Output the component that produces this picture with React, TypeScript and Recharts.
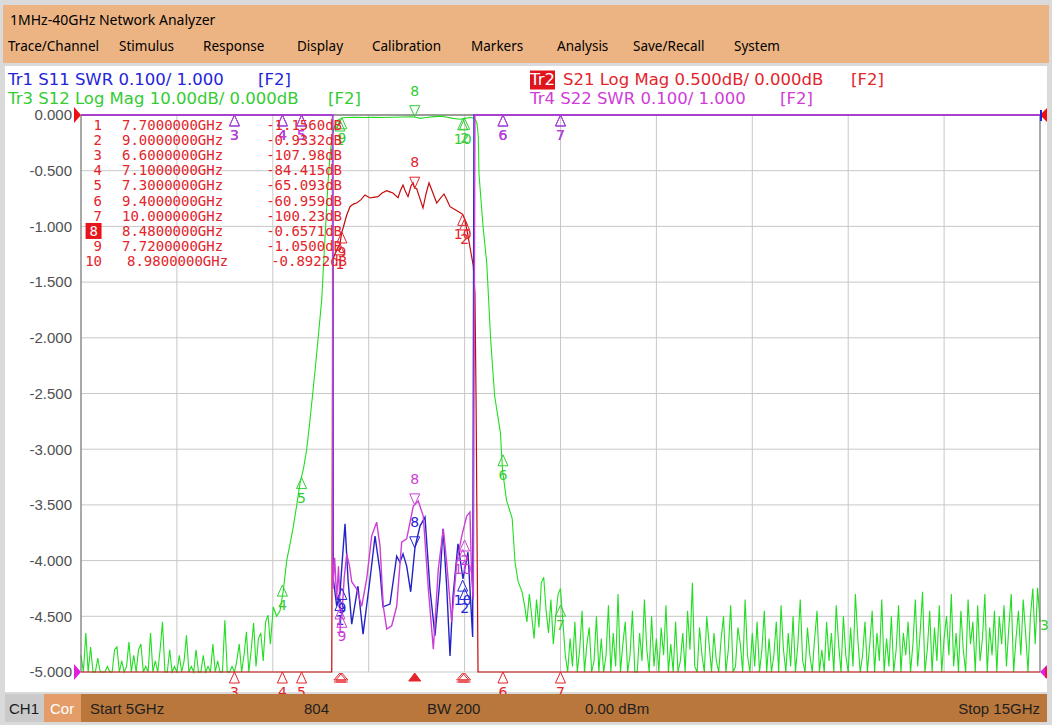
import React from "react";
import { LineChart, Line, XAxis, YAxis, CartesianGrid, ReferenceDot } from "recharts";

// ---- sweep 5 GHz .. 15 GHz ----

// Tr2 S21 Log Mag, dB (0.5 dB/div, ref 0.000 dB at top)
const s21Freq = [
  5, 6.6, 7.1, 7.3, 7.5, 7.6, 7.615, 7.625, 7.66, 7.7,
  7.72, 7.735, 7.77, 7.805, 7.84, 7.875, 7.92, 7.961, 8.014, 8.05,
  8.097, 8.14, 8.188, 8.22, 8.253, 8.306, 8.33, 8.358, 8.385, 8.41,
  8.44, 8.462, 8.48, 8.5, 8.53, 8.566, 8.6, 8.629, 8.67, 8.709,
  8.745, 8.785, 8.815, 8.848, 8.88, 8.92, 8.95, 8.98, 9.0, 9.035,
  9.069, 9.09, 9.108, 9.12, 9.14, 9.2, 9.4, 10.0, 15,
];
const s21Db = [
  -98, -107.98, -84.415, -65.093, -35, -12, -6, -1.3, -1.22, -1.156,
  -1.05, -1.01, -0.9, -0.823, -0.8, -0.79, -0.76, -0.718, -0.745, -0.74,
  -0.733, -0.7, -0.68, -0.69, -0.7, -0.742, -0.68, -0.628, -0.69, -0.733,
  -0.64, -0.608, -0.657, -0.66, -0.74, -0.835, -0.7, -0.61, -0.7, -0.79,
  -0.75, -0.709, -0.76, -0.823, -0.84, -0.86, -0.875, -0.892, -0.933, -1.08,
  -1.25, -1.35, -1.6, -2.6, -8, -25, -60.959, -100.23, -98,
];

// Tr3 S12 Log Mag, dB (10 dB/div, ref 0.000 dB at top)
const sweepStep = 0.025;
const s12LowStart = 5.0;
const s12LowDb = [
  -97, -102, -93, -101, -95.5, -104, -100, -97.5, -103, -106,
  -101, -99, -104, -100, -96, -95.5, -103, -98, -105, -99,
  -94.6, -102, -97, -101, -96, -95, -104, -99, -101, -93,
  -103, -98, -104, -96, -91, -102, -100, -96, -105, -99,
  -102, -97, -104, -98, -93.4, -103, -99, -101, -96, -104,
  -100, -97, -105, -99, -102, -95, -101, -98, -106, -102,
  -90.7, -101, -104, -99, -103, -98, -95, -101, -97, -92.8,
  -100, -96, -91.2, -99, -94, -93, -98, -91, -89.8, -95,
];
const s12EdgeFreq = [
  7.005, 7.04, 7.075, 7.11, 7.145, 7.18, 7.214, 7.25, 7.284, 7.32,
  7.353, 7.38, 7.409, 7.44, 7.471, 7.51, 7.535, 7.562, 7.58, 7.596,
  7.615, 7.631, 7.66, 7.683, 7.73, 7.77, 7.85, 7.95, 8.05, 8.15,
  8.25, 8.35, 8.448, 8.5, 8.535, 8.6, 8.68, 8.75, 8.82, 8.879,
  8.95, 9.0, 9.056, 9.09, 9.115, 9.13, 9.143, 9.15, 9.192, 9.231,
  9.272, 9.313, 9.374, 9.395, 9.436, 9.496, 9.526, 9.557, 9.599,
];
const s12EdgeDb = [
  -88.3, -90, -89, -85.3, -80, -77, -73.9, -70, -66.1, -63.5,
  -60.1, -56, -51.2, -46, -40.4, -33.2, -25, -16.5, -11, -7.5,
  -4.5, -2.7, -1.4, -0.9, -0.5, -0.45, -0.4, -0.45, -0.4, -0.45,
  -0.4, -0.35, -0.32, -0.45, -0.6, -0.45, -0.3, -0.2, -0.4, -0.6,
  -0.75, -0.6, -0.45, -0.55, -0.9, -1.6, -3.9, -10.6, -19.9, -26.6,
  -40.4, -50.4, -57.1, -63.7, -69.1, -72.4, -80.3, -83.7, -85.6,
];
const s12HighStart = 9.625;
const s12HighDb = [
  -88, -91, -86, -90, -94, -87, -92, -84, -83, -89, -93, -87, -95, -90, -86, -85, -91, -97, -102, -94,
  -99, -91, -104, -96, -89, -101, -95, -92, -103, -98, -90, -100, -94, -106, -97, -88, -102, -93, -99, -86,
  -101, -95, -91, -103, -97, -89, -100, -105, -93, -98, -87, -96, -102, -90, -99, -94, -104, -92, -97, -88,
  -103, -95, -100, -91, -106, -98, -93, -101, -89, -96, -84, -99, -104, -92, -97, -102, -90, -95, -100, -93,
  -98, -105, -94, -90, -101, -96, -88, -103, -99, -92, -95, -100, -87, -97, -104, -93, -99, -91, -102, -96,
  -89, -100, -94, -105, -97, -91, -102, -88, -96, -101, -93, -99, -90, -104, -95, -87, -98, -103, -92, -97,
  -100, -94, -89, -102, -96, -106, -91, -98, -93, -100, -88, -95, -103, -90, -97, -101, -92, -99, -86, -94,
  -104, -97, -91, -100, -95, -89, -102, -93, -98, -87, -101, -94, -99, -90, -105, -96, -88, -100, -93, -97,
  -91, -102, -95, -87, -99, -93, -85.6, -100, -96, -89, -103, -92, -98, -88, -101, -94, -90, -97, -86, -99,
  -93, -104, -89, -96, -100, -87, -95, -91, -102, -88, -98, -94, -86, -100, -92, -97, -89, -103, -90, -95,
  -88, -99, -92, -86, -101, -94, -89, -97, -87, -93, -100, -90, -85, -95, -84.9, -91,
];

// Tr1 S11 SWR (0.100/div, ref 1.000 at bottom)
const s11Freq = [
  5, 7.625, 7.631, 7.666, 7.7, 7.72, 7.753, 7.784, 7.823, 7.888,
  7.941, 8.014, 8.066, 8.118, 8.149, 8.222, 8.292, 8.326, 8.358, 8.396,
  8.438, 8.483, 8.535, 8.587, 8.639, 8.691, 8.743, 8.775, 8.813, 8.848,
  8.879, 8.931, 8.983, 9.035, 9.084, 9.098, 15,
];
const s11Swr = [
  4, 3, 1.167, 1.119, 1.14, 1.19, 1.266, 1.167, 1.086, 1.154,
  1.068, 1.167, 1.244, 1.18, 1.117, 1.122, 1.208, 1.197, 1.212, 1.19,
  1.144, 1.224, 1.262, 1.278, 1.149, 1.065, 1.167, 1.257, 1.154, 1.029,
  1.136, 1.23, 1.167, 1.215, 1.063, 3, 4,
];

// Tr4 S22 SWR (0.100/div, ref 1.000 at bottom)
const s22Freq = [
  5, 7.622, 7.626, 7.645, 7.666, 7.685, 7.7, 7.72, 7.745, 7.771,
  7.8, 7.823, 7.875, 7.927, 7.979, 8.031, 8.083, 8.118, 8.152, 8.188,
  8.24, 8.292, 8.344, 8.396, 8.465, 8.517, 8.569, 8.622, 8.674, 8.726,
  8.778, 8.813, 8.865, 8.918, 8.97, 9.022, 9.056, 9.074, 9.091, 9.108, 15,
];
const s22Swr = [
  4, 3, 1.149, 1.205, 1.13, 1.19, 1.12, 1.1, 1.17, 1.212,
  1.19, 1.162, 1.149, 1.118, 1.167, 1.244, 1.269, 1.226, 1.118, 1.077,
  1.083, 1.118, 1.233, 1.239, 1.298, 1.307, 1.28, 1.149, 1.041, 1.185,
  1.257, 1.197, 1.09, 1.197, 1.244, 1.28, 1.287, 1.167, 1.131, 3, 4,
];

// marker table (readout of the active trace, Tr2 S21)
const markerNo = [1, 2, 3, 4, 5, 6, 7, 8, 9, 10];
const markerFreq = [7.7, 9.0, 6.6, 7.1, 7.3, 9.4, 10.0, 8.48, 7.72, 8.98];
const markerS21 = [-1.156, -0.9332, -107.98, -84.415, -65.093, -60.959, -100.23, -0.6571, -1.05, -0.8922];
const activeMarker = 8;
// same markers on the other traces (null = not shown)
const markerS12 = [-0.9, -0.6, null, -84.4, -65.1, -61.0, -88.0, -0.3, -0.5, -0.7];
const markerS11 = [1.13, 1.15, 20, 20, 20, 20, 20, 1.223, 1.15, 1.165];
const markerS22 = [1.115, 1.237, 20, 20, 20, 20, 20, 1.3, 1.1, 1.22];

const yTicks = [0, -0.5, -1, -1.5, -2, -2.5, -3, -3.5, -4, -4.5, -5];
const xTicks = [5, 6, 7, 8, 9, 10, 11, 12, 13, 14, 15];

const menuItems = ["Trace/Channel", "Stimulus", "Response", "Display", "Calibration", "Markers", "Analysis", "Save/Recall", "System"];
const menuX = [8, 119, 203, 297, 372, 471, 557, 633, 734];

// ---- screen scale: 10 divisions, shown in Tr2 units ----
const clamp = (v: number) => Math.max(-5, Math.min(0, v));
const fromDb05 = (db: number) => clamp(db);
const fromDb10 = (db: number) => clamp(db / 20);
const fromSwr = (s: number) => clamp((s - 1) * 5 - 5);

const rows = (fs: number[], vs: number[], conv: (v: number) => number) =>
  fs.map((f, i) => ({ f, v: conv(vs[i]) }));

const s21Rows = rows(s21Freq, s21Db, fromDb05);
const s12Rows = [
  ...s12LowDb.map((d, i) => ({ f: s12LowStart + i * sweepStep, v: fromDb10(d) })),
  ...rows(s12EdgeFreq, s12EdgeDb, fromDb10),
  ...s12HighDb.map((d, i) => ({ f: s12HighStart + i * sweepStep, v: fromDb10(d) })),
];
const s11Rows = rows(s11Freq, s11Swr, fromSwr);
const s22Rows = rows(s22Freq, s22Swr, fromSwr);
const frameTop = [{ f: 5, v: 0 }, { f: 15, v: 0 }];

const fmtFreq = (f: number) => f.toPrecision(8) + "GHz";
const fmtVal = (v: number) => (Math.abs(v) >= 1 ? v.toPrecision(5) : v.toFixed(4)) + "dB";

const UI = "'Noto Sans', 'Open Sans', sans-serif";
const HDR = "'DejaVu Sans', Verdana, sans-serif";
const MONO = "'DejaVu Sans Mono', monospace";
const ARIAL = "'Liberation Sans', Arial, sans-serif";

const C1 = "#2424d8";
const C2 = "#e3242b";
const C3 = "#33cc33";
const C4 = "#cf3cd8";

function Txt(props: any) {
  const { x, y, size, color = "#000", family = UI, anchor = "start", children, style } = props;
  const tx = anchor === "end" ? "-100%" : anchor === "middle" ? "-50%" : "0";
  return (
    <div
      style={{
        position: "absolute",
        left: x,
        top: y,
        transform: `translate(${tx}, -50%)`,
        fontSize: size,
        color,
        fontFamily: family,
        lineHeight: 1.15,
        whiteSpace: "pre",
        ...style,
      }}
    >
      {children}
    </div>
  );
}

// marker glyph: open triangle under the point, or inverted above it for the active one
const markShape = (color: string, label: string, active: boolean) => (p: any) => {
  const cx = p.cx ?? 0;
  const cy = p.cy ?? 0;
  if (active) {
    return (
      <g>
        <polygon points={`${cx},${cy} ${cx - 5},${cy - 11} ${cx + 5},${cy - 11}`} fill="none" stroke={color} strokeWidth={1} />
        <text x={cx} y={cy - 21} textAnchor="middle" fontSize={14} fontFamily={HDR} fill={color}>{label}</text>
      </g>
    );
  }
  return (
    <g>
      <polygon points={`${cx},${cy} ${cx - 5},${cy + 11} ${cx + 5},${cy + 11}`} fill="none" stroke={color} strokeWidth={1} />
      <text x={cx} y={cy + 25} textAnchor="middle" fontSize={14} fontFamily={HDR} fill={color}>{label}</text>
    </g>
  );
};

// stimulus position under the x axis for in-band markers of the active trace
const stimShape = (filled: boolean) => (p: any) => {
  const cx = p.cx ?? 0;
  const cy = p.cy ?? 0;
  if (filled) {
    return <polygon points={`${cx},${cy + 1} ${cx - 6},${cy + 9} ${cx + 6},${cy + 9}`} fill={C2} stroke={C2} />;
  }
  return (
    <g fill="none" stroke={C2} strokeWidth={1}>
      <polygon points={`${cx},${cy + 1} ${cx - 6},${cy + 8} ${cx + 6},${cy + 8}`} />
      <line x1={cx - 6} y1={cy + 10} x2={cx + 6} y2={cy + 10} />
    </g>
  );
};

const xTick = (p: any) => {
  const v = p.payload?.value;
  if (v !== 5 && v !== 15) return <g />;
  return (
    <text x={v === 5 ? p.x + 1 : p.x} y={p.y + 11} textAnchor={v === 5 ? "start" : "end"} fontSize={15} fontFamily={ARIAL} fill="#505050">
      {v}GHz
    </text>
  );
};

export default function App() {
  return (
    <div style={{ position: "relative", width: 1052, height: 725, background: "#dadada", overflow: "hidden" }}>
      <style>{"body{margin:0}"}</style>

      {/* title and menu bar */}
      <div style={{ position: "absolute", left: 3, top: 5, width: 1046, height: 58, background: "#ecb483" }} />
      <Txt x={10} y={20} size={14}>1MHz-40GHz Network Analyzer</Txt>
      {menuItems.map((m, i) => (
        <Txt key={m} x={menuX[i]} y={47} size={13.5}>{m}</Txt>
      ))}

      {/* display panel */}
      <div style={{ position: "absolute", left: 5, top: 66, width: 1042, height: 626, background: "#ffffff" }} />

      {/* trace headers */}
      <Txt x={8} y={80} size={16.5} family={HDR} color={C1}>Tr1 S11 SWR 0.100/ 1.000</Txt>
      <Txt x={258} y={80} size={16.5} family={HDR} color={C1}>[F2]</Txt>
      <Txt x={8} y={99} size={16.5} family={HDR} color={C3}>Tr3 S12 Log Mag 10.00dB/ 0.000dB</Txt>
      <Txt x={328} y={99} size={16.5} family={HDR} color={C3}>[F2]</Txt>
      <Txt x={530} y={80} size={16.5} family={HDR} color="#ffffff" style={{ background: "#e0141c" }}>Tr2</Txt>
      <Txt x={563} y={80} size={16.5} family={HDR} color={C2}>S21 Log Mag 0.500dB/ 0.000dB</Txt>
      <Txt x={851} y={80} size={16.5} family={HDR} color={C2}>[F2]</Txt>
      <Txt x={530} y={99} size={16.5} family={HDR} color={C4}>Tr4 S22 SWR 0.100/ 1.000</Txt>
      <Txt x={780} y={99} size={16.5} family={HDR} color={C4}>[F2]</Txt>

      <div style={{ position: "absolute", left: 0, top: 0 }}>
        <LineChart width={1052} height={725} margin={{ top: 115, right: 0, bottom: 53, left: 0 }}>
          <CartesianGrid stroke="#c8c8c8" />
          <XAxis
            dataKey="f"
            type="number"
            domain={[5, 15]}
            ticks={xTicks}
            interval={0}
            height={0}
            axisLine={false}
            tickLine={false}
            tick={xTick}
          />
          <YAxis
            type="number"
            domain={[-5, 0]}
            ticks={yTicks}
            interval={0}
            width={81}
            tickSize={0}
            tickMargin={9}
            tickLine={false}
            axisLine={{ stroke: "#6e6e6e" }}
            tickFormatter={(v: number) => v.toFixed(3)}
            tick={{ fill: "#505050", fontSize: 15, fontFamily: ARIAL }}
          />
          <YAxis
            yAxisId="r"
            orientation="right"
            type="number"
            domain={[-5, 0]}
            width={12}
            tick={false}
            tickLine={false}
            axisLine={{ stroke: "#6e6e6e" }}
          />
          <Line data={frameTop} dataKey="v" stroke="#555555" strokeWidth={1} dot={false} isAnimationActive={false} />
          <Line data={s12Rows} dataKey="v" type="linear" stroke="#22dd22" strokeWidth={1.1} dot={false} isAnimationActive={false} />
          <Line data={s21Rows} dataKey="v" type="linear" stroke="#c40a0a" strokeWidth={1.2} dot={false} isAnimationActive={false} />
          <Line data={s11Rows} dataKey="v" type="linear" stroke="#2323c4" strokeWidth={1.4} dot={false} isAnimationActive={false} />
          <Line data={s22Rows} dataKey="v" type="linear" stroke="#cc3fd6" strokeWidth={1.4} dot={false} isAnimationActive={false} />

          {markerNo.map((n, i) => (
            <ReferenceDot key={`b${n}`} x={markerFreq[i]} y={fromSwr(markerS11[i])} r={0} shape={markShape(C1, String(n), n === activeMarker)} />
          ))}
          {markerNo.map((n, i) => (
            <ReferenceDot key={`m${n}`} x={markerFreq[i]} y={fromSwr(markerS22[i])} r={0} shape={markShape(C4, String(n), n === activeMarker)} />
          ))}
          {markerNo.map((n, i) =>
            markerS12[i] === null ? null : (
              <ReferenceDot key={`g${n}`} x={markerFreq[i]} y={fromDb10(markerS12[i] as number)} r={0} shape={markShape(C3, String(n), n === activeMarker)} />
            )
          )}
          {markerNo.map((n, i) => (
            <ReferenceDot key={`r${n}`} x={markerFreq[i]} y={fromDb05(markerS21[i])} r={0} shape={markShape(C2, String(n), n === activeMarker)} />
          ))}
          {markerNo.map((n, i) =>
            markerS21[i] > -5 ? (
              <ReferenceDot key={`s${n}`} x={markerFreq[i]} y={-5} r={0} shape={stimShape(n === activeMarker)} />
            ) : null
          )}
        </LineChart>
      </div>

      {/* reference position pointers */}
      <svg width={1052} height={725} style={{ position: "absolute", left: 0, top: 0, pointerEvents: "none" }}>
        <polygon points="74,107 81,115 74,123" fill="#ee1010" />
        <polygon points="74,664 81,672 74,680" fill="#e020e0" />
        <polygon points="1047,108 1040,115 1047,122" fill="#ee1010" />
        <line x1={1041} y1={110} x2={1041} y2={121} stroke={C1} strokeWidth={2} />
        <polygon points="1047,665 1040,672 1047,679" fill="#e020e0" />
        <line x1={1046} y1={667} x2={1046} y2={678} stroke="#ee1010" strokeWidth={1.5} />
      </svg>
      <Txt x={1040} y={625} size={14} family={HDR} color={C3}>3</Txt>

      {/* marker readout table */}
      {markerNo.map((n, i) => {
        const y = 125 + i * 15.1;
        const shift = n >= 10 ? 5 : 0;
        const active = n === activeMarker;
        return (
          <React.Fragment key={`t${n}`}>
            <Txt
              x={102}
              y={y}
              size={14}
              family={MONO}
              anchor="end"
              color={active ? "#ffffff" : C2}
              style={active ? { background: "#e8141c", padding: "0 4px" } : undefined}
            >
              {String(n)}
            </Txt>
            <Txt x={122 + shift} y={y} size={14} family={MONO} color={C2}>{fmtFreq(markerFreq[i])}</Txt>
            <Txt x={342 + shift} y={y} size={14} family={MONO} color={C2} anchor="end">{fmtVal(markerS21[i])}</Txt>
          </React.Fragment>
        );
      })}

      {/* status bar */}
      <div style={{ position: "absolute", left: 5, top: 694, width: 1042, height: 28, background: "#b9773c" }} />
      <div style={{ position: "absolute", left: 5, top: 694, width: 39, height: 28, background: "#cacaca" }} />
      <div style={{ position: "absolute", left: 44, top: 694, width: 37, height: 28, background: "#e49d69" }} />
      <Txt x={9} y={709} size={15} family={ARIAL} color="#1a1a1a">CH1</Txt>
      <Txt x={50} y={709} size={15} family={ARIAL} color="#ffffff">Cor</Txt>
      <Txt x={90} y={709} size={15} family={ARIAL} color="#1e1e1e">Start 5GHz</Txt>
      <Txt x={304} y={709} size={15} family={ARIAL} color="#1e1e1e">804</Txt>
      <Txt x={427} y={709} size={15} family={ARIAL} color="#1e1e1e">BW 200</Txt>
      <Txt x={585} y={709} size={15} family={ARIAL} color="#1e1e1e">0.00 dBm</Txt>
      <Txt x={1040} y={709} size={15} family={ARIAL} color="#1e1e1e" anchor="end">Stop 15GHz</Txt>
    </div>
  );
}
